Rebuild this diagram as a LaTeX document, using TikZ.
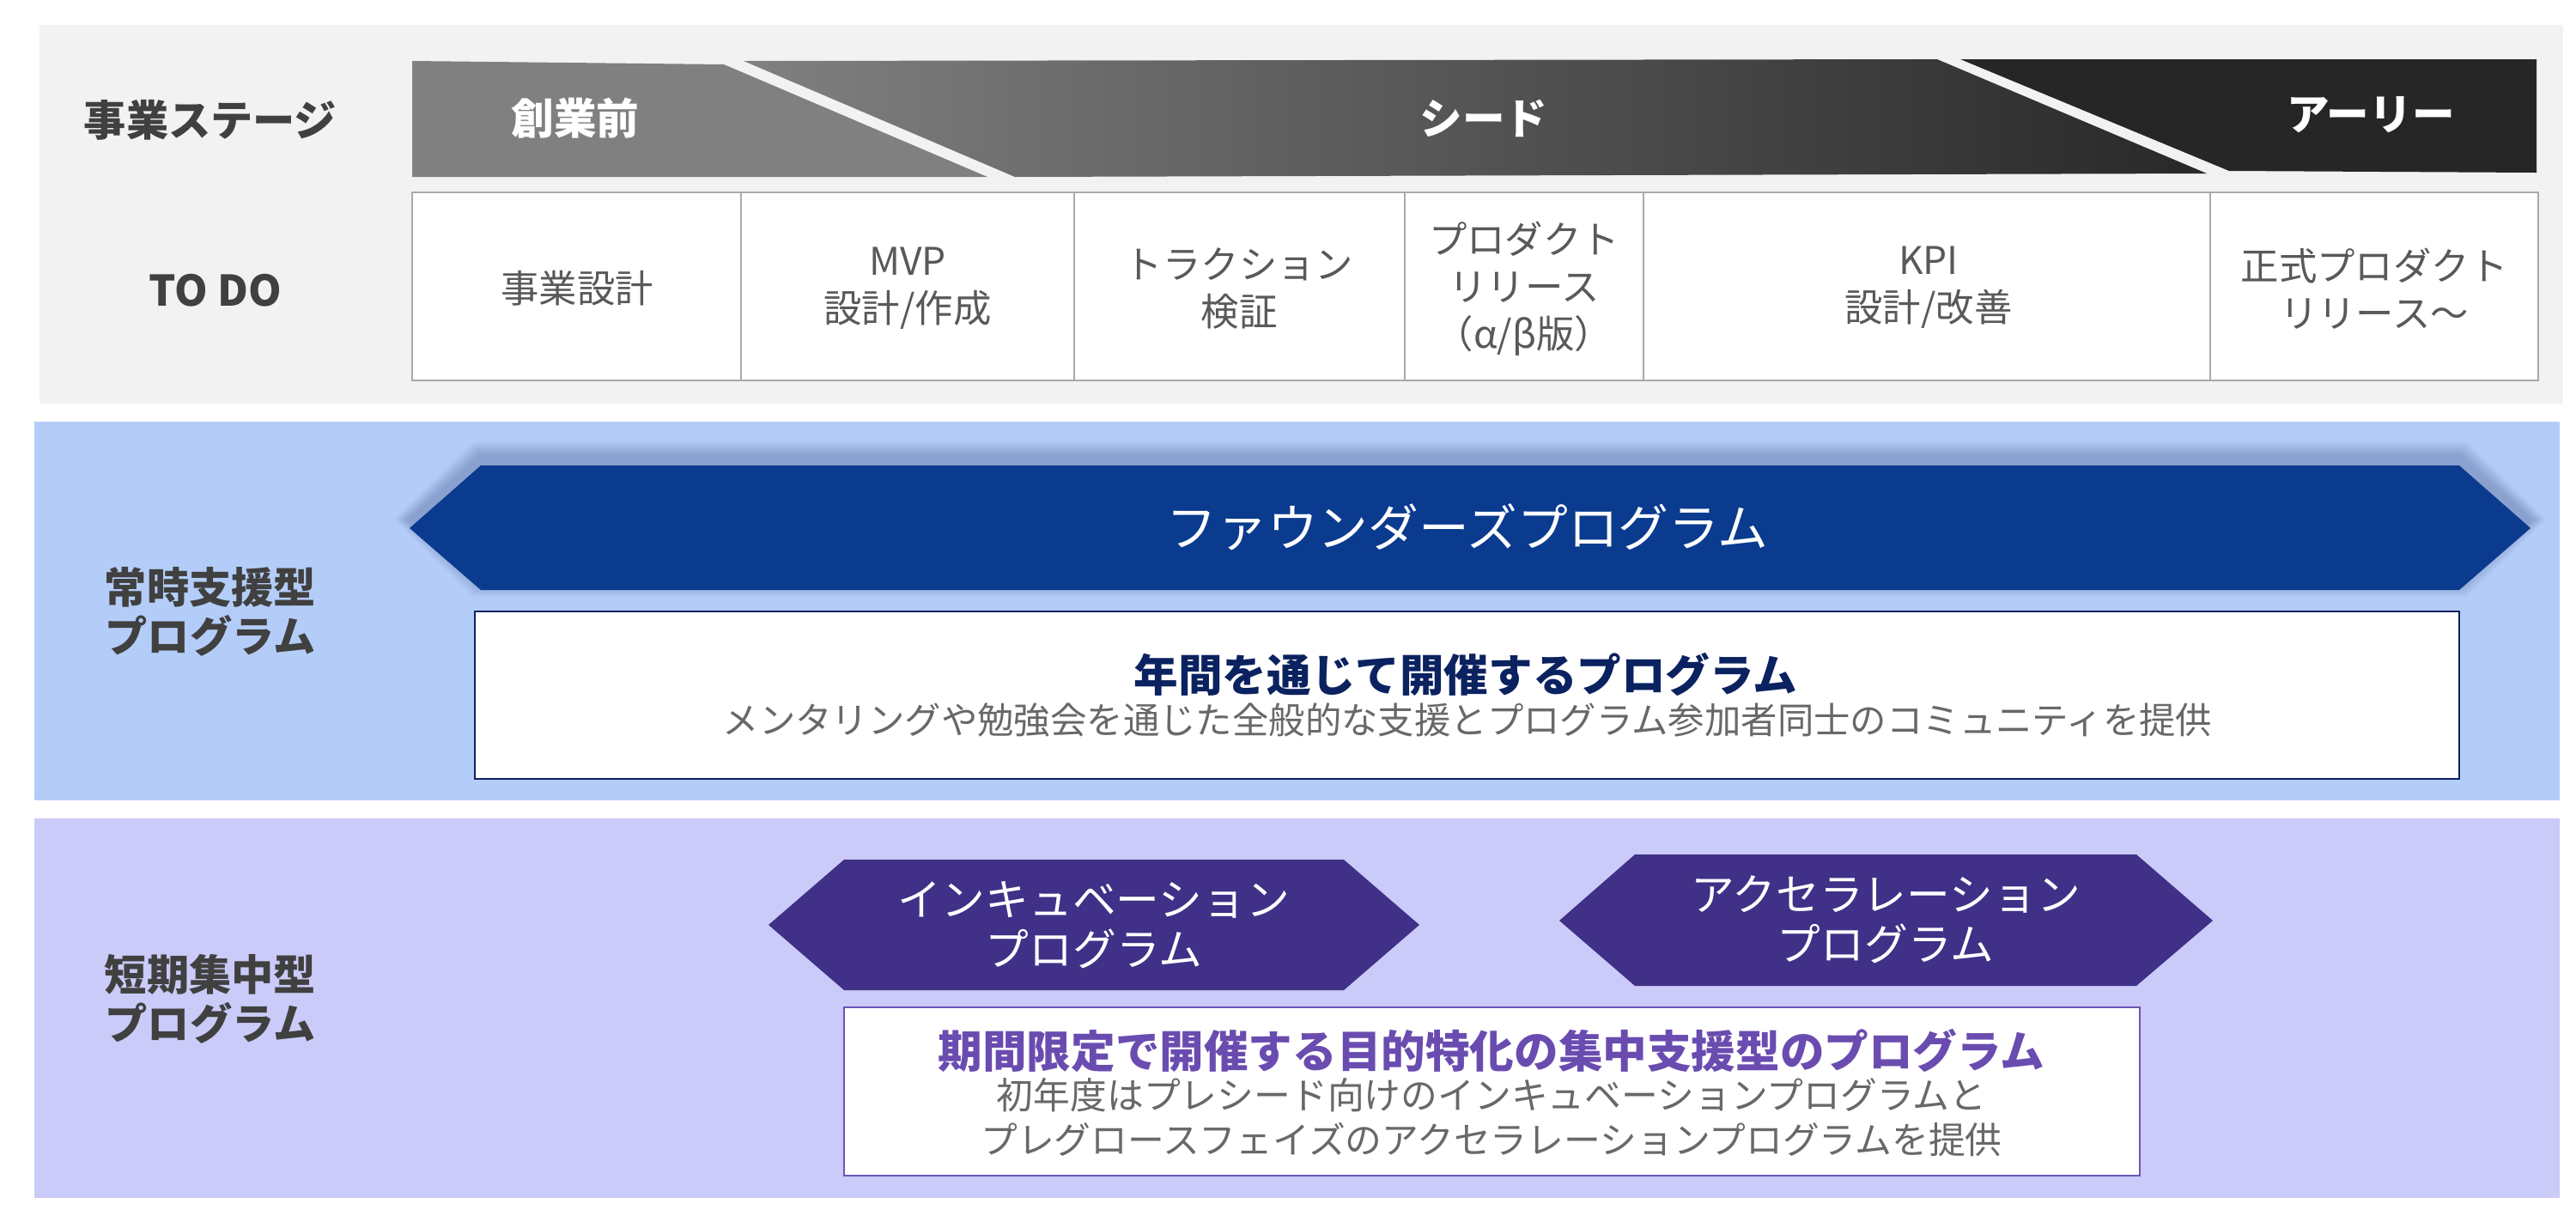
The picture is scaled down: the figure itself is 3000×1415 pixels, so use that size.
\documentclass[tikz,border=0pt]{standalone}
\usepackage{fontspec}
\setmainfont{Noto Sans CJK JP}
\definecolor{panelgray}{HTML}{F2F2F2}
\definecolor{bluepanel}{HTML}{B4CDF8}
\definecolor{purplepanel}{HTML}{CACBF8}
\definecolor{navyarrow}{HTML}{0A3B8F}
\definecolor{hexpurple}{HTML}{403087}
\definecolor{navyline}{HTML}{0B2260}
\definecolor{purpleline}{HTML}{6A55B5}
\definecolor{purpletitle}{HTML}{6A4CB0}
\definecolor{subgray}{HTML}{686868}
\definecolor{cellgray}{HTML}{595959}
\definecolor{cellline}{HTML}{AAAAAA}
\definecolor{lblgray}{HTML}{404040}
\definecolor{shadowcol}{HTML}{1A2A60}
\definecolor{stageA}{HTML}{808080}
\definecolor{stageBdark}{HTML}{282828}
\definecolor{stageC}{HTML}{262626}
\tikzset{
  lbl/.style={font=\fontsize{12.3pt}{14.3pt}\selectfont\bfseries, text=lblgray, align=center, inner sep=0pt},
  stagetxt/.style={font=\fontsize{12.4pt}{14pt}\selectfont\bfseries, text=white, inner sep=0pt},
  cellbox/.style={draw=cellline, line width=0.45pt, fill=white},
  celltxt/.style={font=\fontsize{11.1pt}{13.8pt}\selectfont, text=cellgray, align=center, inner sep=0pt},
  bigtxt/.style={font=\fontsize{14.7pt}{17pt}\selectfont, text=white, inner sep=0pt},
  hextxt/.style={font=\fontsize{12.7pt}{14.5pt}\selectfont, text=white, align=center, inner sep=0pt},
  titletxt/.style={font=\fontsize{12.9pt}{15pt}\selectfont\bfseries, inner sep=0pt},
  subtxt/.style={font=\fontsize{10.6pt}{13pt}\selectfont, text=subgray, align=center, inner sep=0pt},
}
\begin{document}
\begin{tikzpicture}[x=0.25pt,y=-0.25pt]
\useasboundingbox (0,0) rectangle (3000,1415);
\fill[white] (0,0) rectangle (3000,1415);
% panels
\fill[panelgray] (46,29) rectangle (2985,470);
\fill[bluepanel] (40,491) rectangle (2981,932);
\fill[purplepanel] (40,953) rectangle (2981,1395);
% stage bar
\fill[stageA] (480,71) -- (843,75) -- (1150,206) -- (480,206) -- cycle;
\shade[left color=stageA, right color=stageBdark] (866,71) -- (2256,69) -- (2570,202) -- (1182,206) -- cycle;
\fill[stageC] (2283,69) -- (2954,69) -- (2954,201) -- (2596,199) -- cycle;
\node[stagetxt] (s1) at (670,138) {創業前};
\node[stagetxt] (s2) at (1728,138) {シード};
\node[stagetxt] (s3) at (2761,134) {アーリー};
% left labels
\node[lbl] (stage) at (245,140) {事業ステージ};
\node[lbl] (todo) at (251,338) {TO DO};
\node[lbl] (always) at (245,712) {常時支援型\\プログラム};
\node[lbl] (short) at (245,1163) {短期集中型\\プログラム};
% TO DO cells
\draw[cellbox] (480,224) rectangle (863,443);
\draw[cellbox] (863,224) rectangle (1251,443);
\draw[cellbox] (1251,224) rectangle (1636,443);
\draw[cellbox] (1636,224) rectangle (1914,443);
\draw[cellbox] (1914,224) rectangle (2574,443);
\draw[cellbox] (2574,224) rectangle (2956,443);
\node[celltxt] (c1) at (672,336) {事業設計};
\node[celltxt] (c2) at (1057,336) {MVP\\設計/作成};
\node[celltxt] (c3) at (1443,336) {トラクション\\検証};
\node[celltxt] (c4) at (1775,336) {プロダクト\\リリース\\（α/β版）};
\node[celltxt] (c5) at (2246,335) {KPI\\設計/改善};
\node[celltxt] (c6) at (2765,336) {正式プロダクト\\リリース〜};
% founders arrow shadow
\foreach \e in {2,4,...,18} {
  \fill[shadowcol, opacity=0.03] ({477-\e},605) -- ({560-0.5*\e},{532-\e}) -- ({2864+0.5*\e},{532-\e}) -- ({2947+\e},605) -- ({2864+0.5*\e},{677+\e}) -- ({560-0.5*\e},{677+\e}) -- cycle;
}
\fill[navyarrow] (477,615) -- (560,542) -- (2864,542) -- (2947,615) -- (2864,687) -- (560,687) -- cycle;
\node[bigtxt] (founders) at (1709,614) {ファウンダーズプログラム};
% founders description
\draw[navyline, line width=0.6pt, fill=white] (553,712) rectangle (2864,907);
\node[titletxt, text=navyline] (ftitle) at (1707,785) {年間を通じて開催するプログラム};
\node[subtxt] (fsub) at (1709,838) {メンタリングや勉強会を通じた全般的な支援とプログラム参加者同士のコミュニティを提供};
% incubation / acceleration
\fill[hexpurple] (895,1077) -- (983,1001) -- (1565,1001) -- (1653,1077) -- (1565,1153) -- (983,1153) -- cycle;
\node[hextxt] (incub) at (1274,1077) {インキュベーション\\プログラム};
\fill[hexpurple] (1816,1072) -- (1904,995) -- (2488,995) -- (2577,1072) -- (2488,1148) -- (1904,1148) -- cycle;
\node[hextxt] (accel) at (2196,1071) {アクセラレーション\\プログラム};
% short-term description
\draw[purpleline, line width=0.6pt, fill=white] (983,1173) rectangle (2492,1369);
\node[titletxt, text=purpletitle] (stitle) at (1737,1223) {期間限定で開催する目的特化の集中支援型のプログラム};
\node[subtxt, font=\fontsize{10.7pt}{13pt}\selectfont] (ssub) at (1737,1301) {初年度はプレシード向けのインキュベーションプログラムと\\プレグロースフェイズのアクセラレーションプログラムを提供};
\end{tikzpicture}
\end{document}
